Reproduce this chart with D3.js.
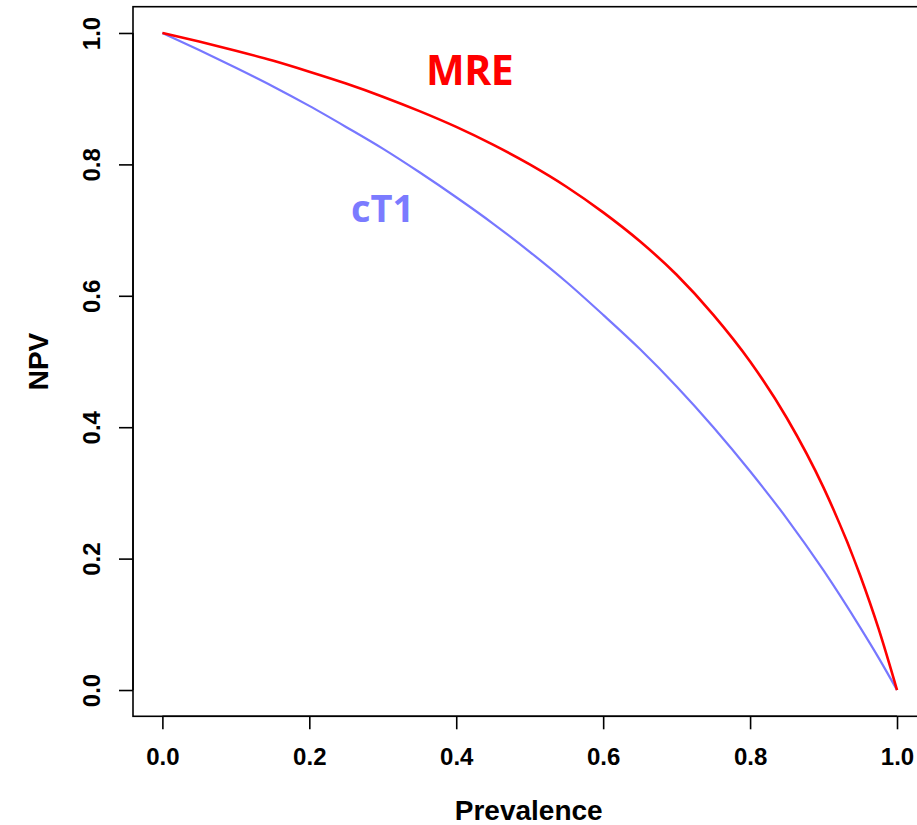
<!DOCTYPE html>
<html>
<head>
<meta charset="utf-8">
<script src="https://cdn.jsdelivr.net/npm/d3@7"></script>
<style>
  html, body { margin: 0; padding: 0; background: #fff; }
  svg { display: block; }
</style>
</head>
<body>
<svg id="chart" width="917" height="825"></svg>
<script>
// Data
const prevalence = [0, 0.05, 0.1, 0.15, 0.2, 0.25, 0.3, 0.35, 0.4, 0.45, 0.5, 0.55, 0.6, 0.65, 0.7, 0.75, 0.8, 0.85, 0.9, 0.95, 0.975, 1.0];
const npvMRE = [1.0, 0.987, 0.973, 0.958, 0.941, 0.923, 0.903, 0.881, 0.857, 0.830, 0.800, 0.766, 0.727, 0.683, 0.632, 0.571, 0.500, 0.414, 0.308, 0.174, 0.093, 0.0];
const npvCT1 = [1.0, 0.974, 0.947, 0.919, 0.889, 0.857, 0.824, 0.788, 0.750, 0.710, 0.667, 0.621, 0.571, 0.519, 0.462, 0.400, 0.333, 0.261, 0.182, 0.095, 0.049, 0.0];
const xTicks = [0, 0.2, 0.4, 0.6, 0.8, 1.0];
const yTicks = [0, 0.2, 0.4, 0.6, 0.8, 1.0];
const seriesLabels = ["MRE", "cT1"];

const svg = d3.select("#chart");
const x = d3.scaleLinear().domain([-0.04, 1.04]).range([133, 926.4]);
const y = d3.scaleLinear().domain([-0.04, 1.04]).range([716.3, 6.7]);

const tickFont = "'Liberation Sans', Arial, sans-serif";

// Box
svg.append("rect")
  .attr("x", x(-0.04)).attr("y", y(1.04))
  .attr("width", x(1.04) - x(-0.04)).attr("height", y(-0.04) - y(1.04))
  .attr("fill", "none").attr("stroke", "#000").attr("stroke-width", 1.6);

// X axis
const xAxis = d3.axisBottom(x).tickValues(xTicks).tickFormat(d3.format(".1f")).tickSize(13).tickPadding(19);
const gx = svg.append("g").attr("transform", `translate(0,${y(-0.04)})`).call(xAxis);
gx.select(".domain").attr("d", `M${x(0)},0H${x(1)}`).attr("stroke-width", 1.6);
gx.selectAll(".tick line").attr("stroke-width", 1.6);
gx.selectAll("text").attr("font-family", tickFont).attr("font-size", 24).attr("font-weight", "bold").attr("fill", "#000");

// Y axis
const yAxis = d3.axisLeft(y).tickValues(yTicks).tickFormat(d3.format(".1f")).tickSize(14).tickPadding(0);
const gy = svg.append("g").attr("transform", `translate(${x(-0.04)},0)`).call(yAxis);
gy.select(".domain").attr("d", `M0,${y(0)}V${y(1)}`).attr("stroke-width", 1.6);
gy.selectAll(".tick line").attr("stroke-width", 1.6);
gy.selectAll("text")
  .attr("font-family", tickFont).attr("font-size", 24).attr("font-weight", "bold").attr("fill", "#000")
  .attr("x", null).attr("dy", null)
  .attr("text-anchor", "middle")
  .attr("transform", "translate(-33,0) rotate(-90)");

// Axis titles
svg.append("text")
  .attr("x", (x(-0.04) + x(1.04)) / 2 - 1).attr("y", 820)
  .attr("text-anchor", "middle")
  .attr("font-family", tickFont).attr("font-size", 28).attr("font-weight", "bold")
  .text("Prevalence");
svg.append("text")
  .attr("transform", `translate(48,${(y(-0.04) + y(1.04)) / 2}) rotate(-90)`)
  .attr("text-anchor", "middle")
  .attr("font-family", tickFont).attr("font-size", 28).attr("font-weight", "bold")
  .text("NPV");

// Lines
const line = ys => d3.line().x((d, i) => x(prevalence[i])).y((d, i) => y(ys[i])).curve(d3.curveMonotoneX)(ys);
svg.append("path").attr("d", line(npvCT1)).attr("fill", "none").attr("stroke", "#7777ff").attr("stroke-width", 2.2);
svg.append("path").attr("d", line(npvMRE)).attr("fill", "none").attr("stroke", "#ff0000").attr("stroke-width", 2.6);

// Labels
const labFont = "'Open Sans', Carlito, sans-serif";
svg.append("text").attr("x", 426).attr("y", 85)
  .attr("font-family", labFont).attr("font-size", 41).attr("font-weight", "bold")
  .attr("fill", "#ff0000").attr("letter-spacing", -0.5).text(seriesLabels[0]);
svg.append("text").attr("x", 351).attr("y", 222)
  .attr("font-family", labFont).attr("font-size", 38).attr("font-weight", "bold")
  .attr("fill", "#7b7bff").attr("letter-spacing", 0).text(seriesLabels[1]);
</script>
</body>
</html>
